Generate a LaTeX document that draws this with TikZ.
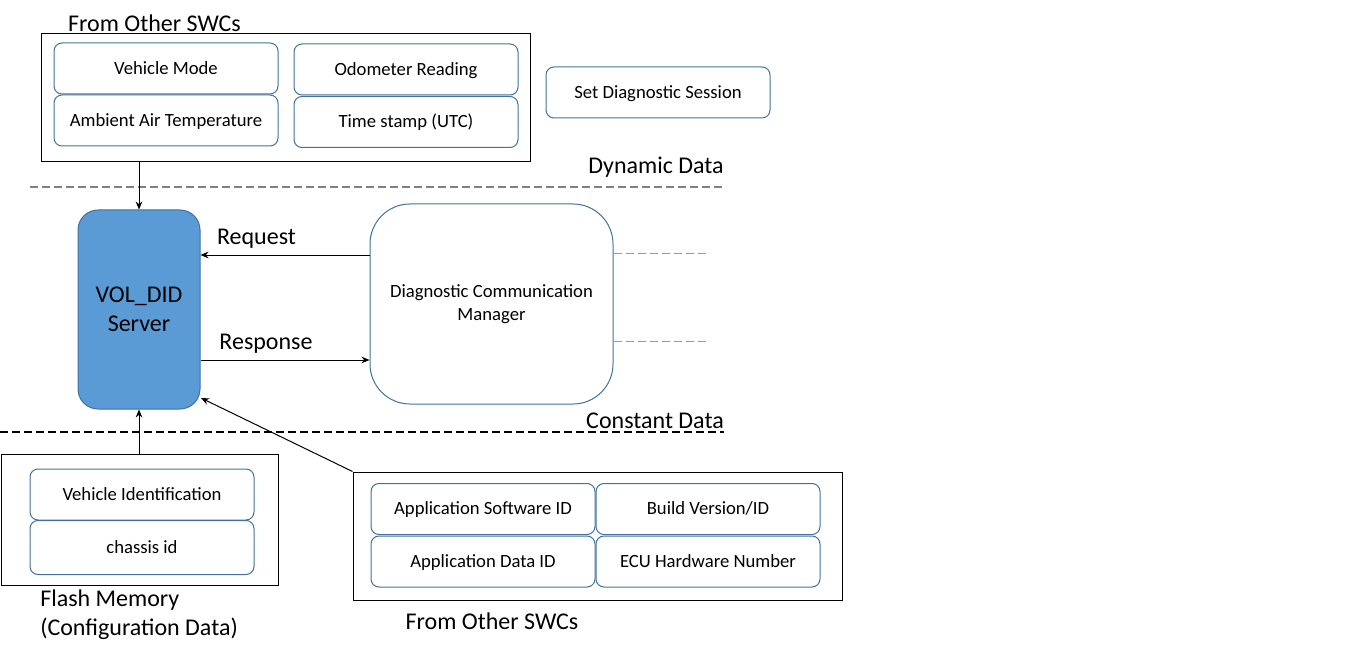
\documentclass[tikz,border=0pt]{standalone}
\usepackage{xcolor}
\usepackage{fontspec}
\setmainfont{Carlito}
\usepackage{tikz}
\usetikzlibrary{shapes.geometric, arrows, arrows.meta}
\definecolor{boxblue}{HTML}{41719C}
\definecolor{serverblue}{HTML}{5B9BD5}
\definecolor{stubblue}{HTML}{6F9FCF}
\definecolor{divgrey}{HTML}{7F7F7F}
\newcommand{\smalltxt}{\fontsize{14}{17.25}\selectfont}
\newcommand{\bigtxt}{\fontsize{18}{21.75}\selectfont}
\tikzstyle{group} = [rectangle, draw=black, line width=0.75pt]
\tikzstyle{datum} = [rectangle, rounded corners=6pt, minimum width=168pt, minimum height=38.25pt, text height=10pt, text depth=1.5pt, text centered, draw=boxblue, line width=0.75pt, font=\smalltxt]
\tikzstyle{server} = [rectangle, rounded corners=15pt, minimum width=91.5pt, minimum height=149.25pt, align=center, draw=boxblue, fill=serverblue, line width=0.75pt, font=\bigtxt]
\tikzstyle{manager} = [rectangle, rounded corners=30pt, minimum width=182.25pt, minimum height=150pt, align=center, draw=boxblue, line width=0.75pt, font=\smalltxt]
\tikzstyle{caption} = [inner sep=0pt, font=\bigtxt]
\tikzstyle{arrow} = [line width=0.75pt,-{Stealth[length=6pt,width=5pt]}]
\tikzstyle{divider} = [line width=0.9pt, dash pattern=on 6pt off 3pt]
\tikzstyle{stub} = [line width=0.6pt, draw=stubblue, dash pattern=on 6pt off 3pt]

\begin{document}
\begin{tikzpicture}[x=0.75pt, y=-0.75pt]
      \useasboundingbox (0,0) rectangle (1360,656);
      % dynamic data sources
      \node (topgroup) [group, minimum width=366.75pt, minimum height=96pt] at (285.5,98) {};
      \node (toplabel) [caption] at (154.5,23.5) {From Other SWCs};
      \node (vmode) [datum] at (166,68.5) {Vehicle Mode};
      \node (odo) [datum] at (406,69.5) {Odometer Reading};
      \node (ambient) [datum] at (166,120.5) {Ambient Air Temperature};
      \node (tstamp) [datum] at (406,122) {Time stamp (UTC)};
      \node (session) [datum] at (658,92.5) {Set Diagnostic Session};
      \node (dynlabel) [caption] at (656,167) {Dynamic Data};
      \draw [divider, draw=divgrey] (30,187) -- (726,187);
      % server and dcm
      \node (server) [server] at (139,309.5) {VOL\_DID\\Server};
      \node (dcm) [manager] at (491.5,304) {Diagnostic Communication\\Manager};
      \coordinate (reqy) at (0,255);
      \coordinate (respy) at (0,360);
      \node (reqlabel) [caption] at (256.5,238.5) {Request};
      \node (resplabel) [caption] at (266,343.5) {Response};
      \draw [arrow] (dcm.west |- reqy) -- (server.east |- reqy);
      \draw [arrow] (server.east |- respy) -- (dcm.west |- respy);
      \draw [stub] (dcm.east |- 0,253) -- (708,253);
      \draw [stub] (dcm.east |- 0,341) -- (706,341);
      \node (constlabel) [caption] at (655,420.5) {Constant Data};
      \draw [divider] (0,432) -- (724,432);
      % constant data sources
      \node (flashgroup) [group, minimum width=207.75pt, minimum height=98.25pt] at (139.5,519.5) {};
      \node (vid) [datum] at (142,494.5) {Vehicle Identification};
      \node (chassis) [datum, minimum height=40.5pt] at (142,547.5) {chassis id};
      \node (flashlabel) [caption, anchor=west, align=left] at (40,615) {Flash Memory\\(Configuration Data)};
      \node (swgroup) [group, minimum width=366.75pt, minimum height=96pt] at (597.5,536) {};
      \node (appsw) [datum] at (483,509) {Application Software ID};
      \node (build) [datum] at (708,509) {Build Version/ID};
      \node (appdata) [datum] at (483,561.5) {Application Data ID};
      \node (ecu) [datum] at (708,561.5) {ECU Hardware Number};
      \node (botlabel) [caption] at (492,621.5) {From Other SWCs};
      \coordinate (srvtip) at (201,398);
      \draw [arrow] (topgroup.south -| server.north) -- (server.north);
      \draw [arrow] (flashgroup.north -| server.south) -- (server.south);
      \draw [arrow] (swgroup.north west) -- (srvtip);
    \end{tikzpicture}
\end{document}
